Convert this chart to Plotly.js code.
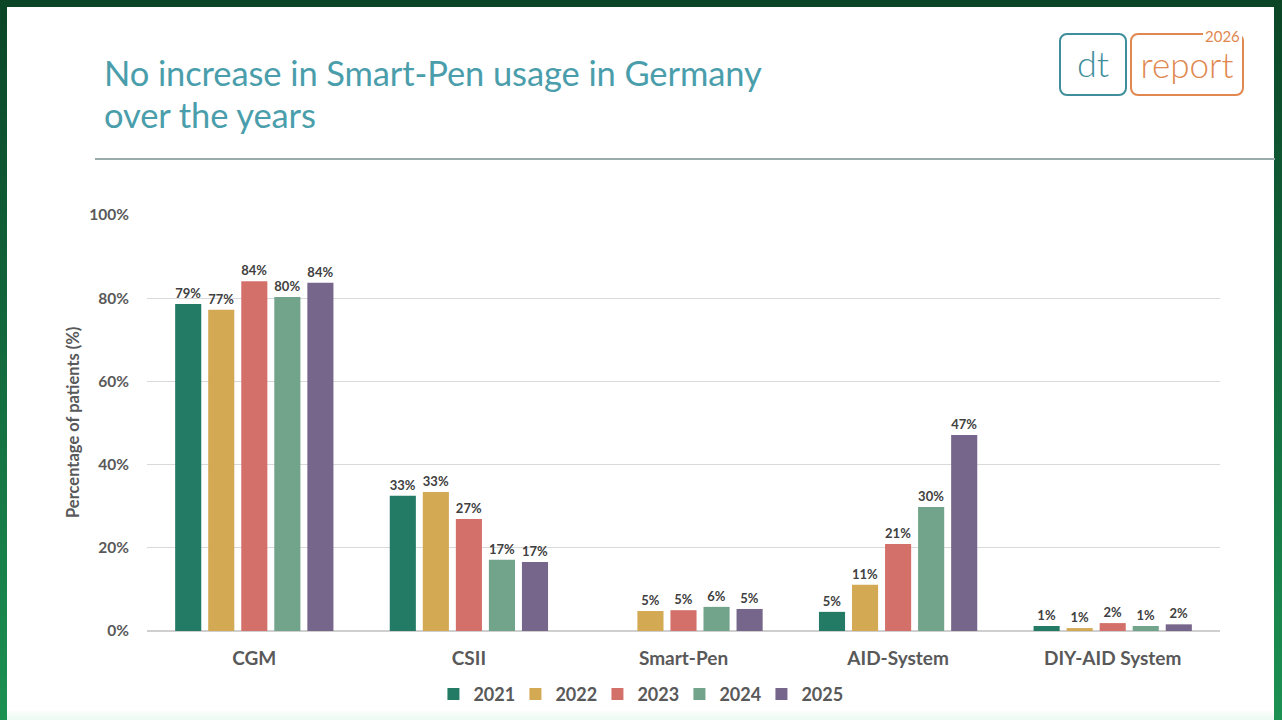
<!DOCTYPE html>
<html>
<head>
<meta charset="utf-8">
<script src="https://cdn.plot.ly/plotly-3.0.1.min.js"></script>
<style>
  html, body { margin:0; padding:0; }
  body { width:1282px; height:720px; position:relative; overflow:hidden;
         background: linear-gradient(180deg, #0b4526 0%, #11633a 40%, #1c9152 100%); }
  #panel { position:absolute; left:7px; top:7px; width:1267px; height:713px;
           background: linear-gradient(180deg, #ffffff 0%, #ffffff 98.5%, #eafaf2 100%); }
  #title { position:absolute; left:104px; top:52px; margin:0;
           font-family: Lato, "Open Sans", sans-serif; font-weight:400; font-size:34.5px;
           line-height:42px; color:#4a9eab; letter-spacing:-0.1px; }
  #rule { position:absolute; left:95px; top:158px; width:1180px; height:1.5px; background:#9aabab; }
  #chart { position:absolute; left:0; top:0; width:1282px; height:720px; }
  .logo { position:absolute; box-sizing:border-box; border-radius:8px;
          font-family: Lato, "Open Sans", sans-serif; font-weight:300; }
  #dt { left:1059px; top:33px; width:68px; height:63px; border:2px solid #3f8e9b; color:#3f8e9b;
        font-size:36px; text-align:center; line-height:56px; }
  #rep { left:1130px; top:33px; width:114px; height:63px; border:2px solid #e0884f; color:#e0884f;
         font-size:35px; text-align:center; line-height:58px; }
  #yr { position:absolute; left:1203px; top:28px; padding:0 2px; background:#fff; color:#e0884f;
        font-family: Lato, "Open Sans", sans-serif; font-size:15px; line-height:17px; }
</style>
</head>
<body>
<div id="panel"></div>
<h1 id="title">No increase in Smart-Pen usage in Germany<br>over the years</h1>
<div id="rule"></div>
<div id="dt" class="logo">dt</div>
<div id="rep" class="logo">report</div>
<div id="yr">2026</div>
<div id="chart"></div>
<script>
const categories = ["CGM", "CSII", "Smart-Pen", "AID-System", "DIY-AID System"];
const years = ["2021", "2022", "2023", "2024", "2025"];
const v2021 = [78.6, 32.5, null, 4.6, 1.2];
const v2022 = [77.2, 33.4, 4.8, 11.1, 0.7];
const v2023 = [84.1, 26.9, 5.0, 20.9, 1.9];
const v2024 = [80.3, 17.1, 5.8, 29.8, 1.2];
const v2025 = [83.7, 16.6, 5.3, 47.1, 1.6];
const colors = ["#237a65", "#d4a954", "#d4706a", "#71a48b", "#77668b"];
const yTicks = [0, 20, 40, 60, 80, 100];

const series = [v2021, v2022, v2023, v2024, v2025];
const font = 'Lato, "Open Sans", sans-serif';

const traces = series.map((vals, i) => ({
  type: 'bar',
  name: years[i],
  x: categories,
  y: vals,
  marker: { color: colors[i] },
  texttemplate: '%{y:.0f}%',
  textposition: 'outside',
  textfont: { family: font, size: 13, color: '#404040', weight: 'bold' },
  cliponaxis: false,
  hoverinfo: 'none'
}));

const layout = {
  width: 1282, height: 720,
  margin: { l: 147, r: 62, t: 215, b: 89, autoexpand: false },
  paper_bgcolor: 'rgba(0,0,0,0)',
  plot_bgcolor: 'rgba(0,0,0,0)',
  barmode: 'group',
  bargap: 0.23,
  bargroupgap: 0.21,
  showlegend: true,
  legend: {
    orientation: 'h', x: 0.458, xanchor: 'center', y: -0.152, yanchor: 'middle',
    font: { family: font, size: 18, color: '#595959', weight: 'bold' },
    itemwidth: 30, entrywidth: 37, entrywidthmode: 'pixels',
    traceorder: 'normal'
  },
  xaxis: {
    type: 'category',
    showgrid: false, zeroline: false,
    showline: false,
    ticks: 'outside', ticklen: 10, tickcolor: 'rgba(0,0,0,0)',
    tickfont: { family: font, size: 19, color: '#595959', weight: 'bold' },
    fixedrange: true
  },
  yaxis: {
    range: [0, 100],
    tickvals: yTicks,
    ticktext: yTicks.map(t => t + '%'),
    showgrid: true, gridcolor: '#d9d9d9', gridwidth: 1,
    zeroline: true, zerolinecolor: '#cfcfcf', zerolinewidth: 1.5,
    showline: false,
    ticks: 'outside', ticklen: 14, tickcolor: 'rgba(0,0,0,0)',
    tickfont: { family: font, size: 15.5, color: '#595959', weight: 'bold' },
    fixedrange: true
  },
  annotations: [{
    text: 'Percentage of patients (%)',
    xref: 'paper', yref: 'paper',
    x: (73 - 147) / 1073, y: 0.5,
    xanchor: 'center', yanchor: 'middle',
    textangle: -90, showarrow: false,
    font: { family: font, size: 16.5, color: '#595959', weight: 'bold' }
  }]
};

Plotly.newPlot('chart', traces, layout, { displayModeBar: false, staticPlot: true });
</script>
</body>
</html>
